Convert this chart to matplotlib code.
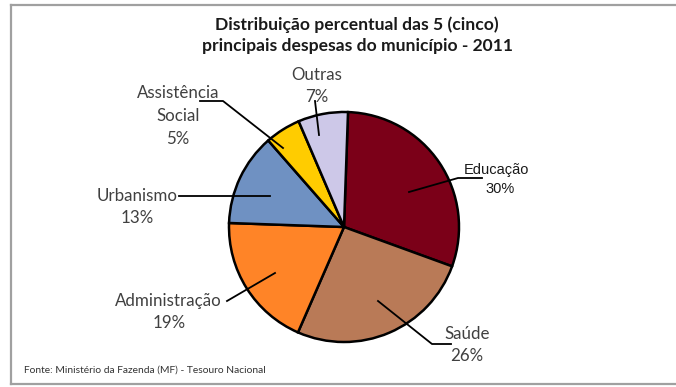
import matplotlib
matplotlib.use("Agg")
import matplotlib.pyplot as plt
from matplotlib.lines import Line2D

categories = ["Educação", "Saúde", "Administração", "Urbanismo", "Assistência\nSocial", "Outras"]
values = [30, 26, 19, 13, 5, 7]
pct_labels = ["30%", "26%", "19%", "13%", "5%", "7%"]
colors = ["#7B0018", "#B97A57", "#FF8427", "#6F91C2", "#FFCC00", "#CDC8E8"]
title = "Distribuição percentual das 5 (cinco)\nprincipais despesas do município - 2011"
source = "Fonte: Ministério da Fazenda (MF) - Tesouro Nacional"

W, H = 676, 387
fig = plt.figure(figsize=(W / 100, H / 100), dpi=100)
fig.patch.set_facecolor("white")
ax = fig.add_axes([0, 0, 1, 1])


def Y(py):
    return H - py


ax.pie(values, colors=colors, startangle=88, counterclock=False,
       center=(344, Y(227)), radius=115, frame=True,
       wedgeprops=dict(edgecolor="black", linewidth=1.8))
ax.set_xlim(0, W)
ax.set_ylim(0, H)
ax.set_aspect("equal")
ax.axis("off")

# frame lines
fcol = "#a0a0a0"
fig.add_artist(Line2D([11 / W, 1], [Y(5) / H, Y(5) / H], color=fcol, lw=1.6, transform=fig.transFigure))
fig.add_artist(Line2D([11 / W, 1], [Y(384) / H, Y(384) / H], color=fcol, lw=1.6, transform=fig.transFigure))
fig.add_artist(Line2D([11 / W, 11 / W], [Y(5) / H, Y(384) / H], color=fcol, lw=1.6, transform=fig.transFigure))

# title
ax.text(357, Y(35), title, ha="center", va="center", fontsize=12.6, fontweight="bold",
        family="Lato", color="#1a1a1a", linespacing=1.4)

lab = dict(family="Lato", color="#404040", fontsize=12.2)
lc = dict(color="black", lw=1.3)

# Educação
ax.text(496, Y(170), categories[0], ha="center", va="center", family="Liberation Sans",
        fontsize=10.5, color="#1a1a1a")
ax.text(500, Y(189), pct_labels[0], ha="center", va="center", family="Liberation Sans",
        fontsize=10.5, color="#1a1a1a")
ax.plot([409, 458, 482], [Y(192), Y(178), Y(178)], **lc)

# Saúde
ax.text(467, Y(334), categories[1], ha="center", va="center", **lab)
ax.text(467, Y(356), pct_labels[1], ha="center", va="center", **lab)
ax.plot([378, 432, 451], [Y(301), Y(344), Y(344)], **lc)

# Administração
ax.text(168, Y(301), categories[2], ha="center", va="center", **lab)
ax.text(169, Y(323), pct_labels[2], ha="center", va="center", **lab)
ax.plot([227, 275], [Y(301), Y(273)], **lc)

# Urbanismo
ax.text(137, Y(196), categories[3], ha="center", va="center", **lab)
ax.text(137, Y(218), pct_labels[3], ha="center", va="center", **lab)
ax.plot([179, 270], [Y(196), Y(196)], **lc)

# Assistência Social
ax.text(178, Y(116), categories[4] + "\n" + pct_labels[4], ha="center", va="center",
        linespacing=1.5, **lab)
ax.plot([200, 223, 283], [Y(101), Y(101), Y(148)], **lc)

# Outras
ax.text(317, Y(86), categories[5] + "\n" + pct_labels[5], ha="center", va="center",
        linespacing=1.45, **lab)
ax.plot([315, 319], [Y(101), Y(135)], **lc)

# source
ax.text(24, Y(370), source, ha="left", va="center", family="Lato", fontsize=7.4, color="#333333")

fig.savefig("out.png", dpi=100, facecolor="white")
